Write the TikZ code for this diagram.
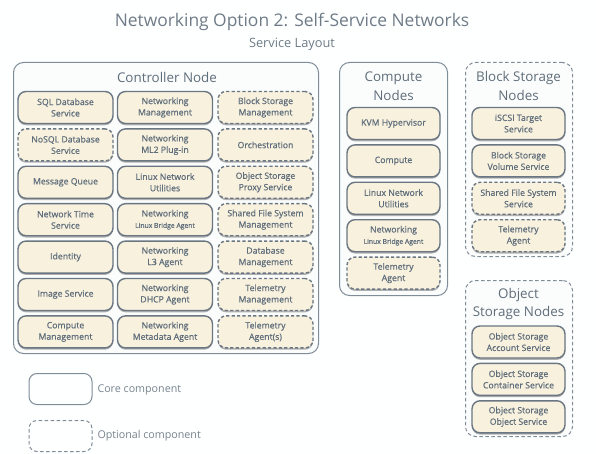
\documentclass[tikz,border=0pt]{standalone}
\usepackage{fontspec}
\setmainfont{Open Sans}
\newfontfamily\boxfont{Open Sans}[FakeBold=0.6]
\usetikzlibrary{shadows}
\definecolor{txt}{HTML}{5F6E7B}
\definecolor{boxline}{HTML}{6A7782}
\definecolor{grpline}{HTML}{7F8D99}
\definecolor{cream}{HTML}{F8F1DE}
\definecolor{grpfill}{HTML}{FBFCFC}
\definecolor{bg}{HTML}{FEFFFF}
\tikzset{
  core/.style={draw=boxline, line width=1.4pt, fill=cream, rounded corners=8pt,
    minimum width=95pt, minimum height=32pt, align=center, text=txt,
    font=\boxfont\fontsize{8.7}{11.4}\selectfont,
    drop shadow={shadow xshift=0pt, shadow yshift=-1.8pt, opacity=0.5, fill=black!60}},
  opt/.style={core, dash pattern=on 3.2pt off 2.2pt},
  grp/.style={draw=grpline, line width=1pt, fill=grpfill, rounded corners=10pt, anchor=north west, inner sep=0pt},
  grpopt/.style={grp, dash pattern=on 3.5pt off 2.5pt},
  grptitle/.style={text=txt, align=center, font=\fontsize{13.4}{18.5}\selectfont},
  legtext/.style={text=txt!85, anchor=west, font=\fontsize{10.7}{13}\selectfont},
}
\newcommand{\sm}[1]{{\fontsize{6.8}{9}\selectfont #1}}
\begin{document}
\begin{tikzpicture}[x=1pt,y=-1pt]
\useasboundingbox (0,0) rectangle (596,454);
\fill[bg] (0,0) rectangle (596,454);
% titles
\node[text=txt!90, font=\fontsize{17.4}{20}\selectfont] (title) at (292,22) {Networking Option 2: Self-Service Networks};
\node[text=txt!90, font=\fontsize{12.8}{14}\selectfont] (sub) at (292,44) {Service Layout};
% groups
\node[grp, minimum width=305pt, minimum height=291pt] (ctrl) at (13,62) {};
\node[grptitle] (ctrlt) at (167,77) {Controller Node};
\node[grp, minimum width=108pt, minimum height=233pt] (comp) at (339,62) {};
\node[grptitle] (compt) at (393.5,86) {Compute\\Nodes};
\node[grpopt, minimum width=107pt, minimum height=194pt] (blk) at (465,62) {};
\node[grptitle] (blkt) at (518.5,86) {Block Storage\\Nodes};
\node[grpopt, minimum width=107pt, minimum height=156pt] (obj) at (465,280) {};
\node[grptitle] (objt) at (518.5,304) {Object\\Storage Nodes};
% controller column 1
\node[core] (c11) at (65.5,107.5) {SQL Database\\Service};
\node[opt]  (c12) at (65.5,144.9) {NoSQL Database\\Service};
\node[core] (c13) at (65.5,182.3) {Message Queue};
\node[core] (c14) at (65.5,219.7) {Network Time\\Service};
\node[core] (c15) at (65.5,257.1) {Identity};
\node[core] (c16) at (65.5,294.5) {Image Service};
\node[core] (c17) at (65.5,331.9) {Compute\\Management};
% controller column 2
\node[core] (c21) at (165,107.5) {Networking\\Management};
\node[core] (c22) at (165,144.9) {Networking\\ML2 Plug-in};
\node[core] (c23) at (165,182.3) {Linux Network\\Utilities};
\node[core] (c24) at (165,219.7) {Networking\\\sm{Linux Bridge Agent}};
\node[core] (c25) at (165,257.1) {Networking\\L3 Agent};
\node[core] (c26) at (165,294.5) {Networking\\DHCP Agent};
\node[core] (c27) at (165,331.9) {Networking\\Metadata Agent};
% controller column 3
\node[opt] (c31) at (265.5,107.5) {Block Storage\\Management};
\node[opt] (c32) at (265.5,144.9) {Orchestration};
\node[opt] (c33) at (265.5,182.3) {Object Storage\\Proxy Service};
\node[opt] (c34) at (265.5,219.7) {Shared File System\\Management};
\node[opt] (c35) at (265.5,257.1) {Database\\Management};
\node[opt] (c36) at (265.5,294.5) {Telemetry\\Management};
\node[opt] (c37) at (265.5,331.9) {Telemetry\\Agent(s)};
% compute
\node[core, minimum width=93pt] (k1) at (393.5,123.5) {KVM Hypervisor};
\node[core, minimum width=93pt] (k2) at (393.5,160.9) {Compute};
\node[core, minimum width=93pt] (k3) at (393.5,198.3) {Linux Network\\Utilities};
\node[core, minimum width=93pt] (k4) at (393.5,235.7) {Networking\\\sm{Linux Bridge Agent}};
\node[opt, minimum width=93pt] (k5) at (393.5,273.1) {Telemetry\\Agent};
% block storage
\node[core, minimum width=93pt] (b1) at (518.5,123.5) {iSCSI Target\\Service};
\node[core, minimum width=93pt] (b2) at (518.5,160.9) {Block Storage\\Volume Service};
\node[opt, minimum width=93pt] (b3) at (518.5,198.3) {Shared File System\\Service};
\node[opt, minimum width=93pt] (b4) at (518.5,235.7) {Telemetry\\Agent};
% object storage
\node[core, minimum width=93pt] (o1) at (518.5,342) {Object Storage\\Account Service};
\node[core, minimum width=93pt] (o2) at (518.5,379.4) {Object Storage\\Container Service};
\node[core, minimum width=93pt] (o3) at (518.5,416.8) {Object Storage\\Object Service};
% legend
\node[draw=grpline, line width=1pt, rounded corners=8pt, minimum width=63pt, minimum height=31pt, anchor=north west] (lcore) at (28.5,373) {};
\node[legtext] (lcoret) at (94,389.5) {Core component};
\node[draw=grpline, line width=1pt, rounded corners=8pt, dash pattern=on 3.5pt off 2.5pt, minimum width=63pt, minimum height=31pt, anchor=north west] (lopt) at (28.5,420) {};
\node[legtext] (loptt) at (94,436) {Optional component};
\end{tikzpicture}
\end{document}
